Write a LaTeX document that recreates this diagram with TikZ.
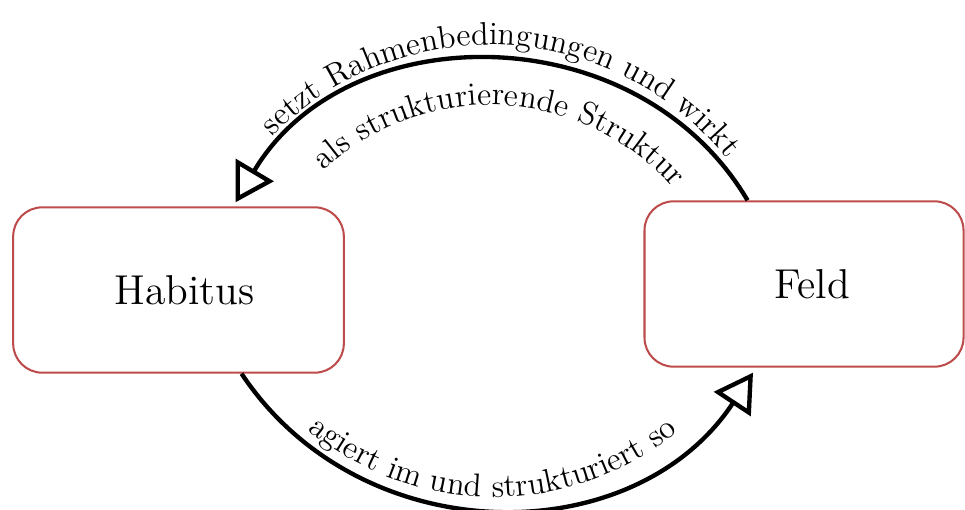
\documentclass[tikz,border=0pt]{standalone}
\usetikzlibrary{arrows.meta,decorations.text,calc}
\definecolor{boxred}{RGB}{190,75,75}
\newcommand{\curvefont}{\fontsize{11.2}{13.6}\selectfont}
\begin{document}
\begin{tikzpicture}[x=0.3448pt,y=-0.3448pt]
\tikzset{
  box/.style={draw=boxred, line width=0.7pt, rounded corners=10pt, fill=white,
    minimum height=57pt, font=\Large, inner sep=0pt},
  flow/.style={line width=1.5pt,
    -{Triangle[open, length=13pt, width=15pt, line width=1.5pt]}},
  curvtext/.style={decorate, decoration={text along path, text align=center, text={|\curvefont|#1}}}
}
\useasboundingbox (0,0) rectangle (965,510);
\node[box, minimum width=114pt] (habitus) at (178.5,290) {\hspace*{4.2pt}Habitus};
\node[box, minimum width=110pt] (feld) at (804,284) {\hspace*{5.5pt}Feld};
% top arc: Feld -> Habitus
\draw[flow] (feld.124) .. controls +(-111,-187) and +(111,-187) .. ($(habitus.north)+(57,-4)$);
\path[curvtext={setzt Rahmenbedingungen und wirkt}]
  ([shift={(-147.2:304)}]490,349) arc[start angle=-147.2, end angle=-27.2, radius=304];
\path[curvtext={als strukturierende Struktur}]
  ([shift={(-147.2:244)}]490,349) arc[start angle=-147.2, end angle=-27.2, radius=244];
% bottom arc: Habitus -> Feld
\draw[flow] (habitus.-53) .. controls +(120,180) and +(-119,180) .. ($(feld.south)+(-51,5)$);
\path[curvtext={agiert im und strukturiert so}]
  ([shift={(-224.7:292)}]494,205) arc[start angle=-224.7, end angle=-314.7, radius=292];
\end{tikzpicture}
\end{document}
